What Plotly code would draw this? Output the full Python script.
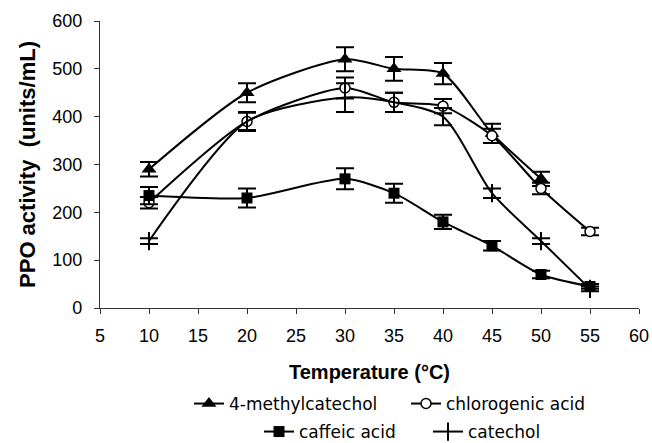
import plotly.graph_objects as go

temps = [10, 20, 30, 35, 40, 45, 50, 55]

methylcatechol = [290, 450, 520, 500, 490, 365, 270]
methylcatechol_err = [15, 20, 25, 25, 22, 20, 15]

chlorogenic = [220, 390, 460, 430, 422, 360, 250, 160]
chlorogenic_err = [12, 18, 22, 20, 15, 15, 12, 8]

caffeic = [235, 230, 270, 240, 180, 130, 70, 45]
caffeic_err = [18, 20, 22, 20, 15, 10, 8, 5]

catechol = [140, 390, 440, 430, 400, 240, 140, 40]
catechol_err = [6, 20, 30, 20, 18, 10, 6, 5]

series = [
    ("4-methylcatechol", temps[:len(methylcatechol)], methylcatechol, methylcatechol_err,
     dict(symbol="triangle-up", size=13, color="black"), "legend"),
    ("chlorogenic acid", temps, chlorogenic, chlorogenic_err,
     dict(symbol="circle", size=10, color="white", line=dict(color="black", width=1.5)), "legend2"),
    ("caffeic acid", temps, caffeic, caffeic_err,
     dict(symbol="square", size=11, color="black"), "legend3"),
    ("catechol", temps, catechol, catechol_err,
     dict(symbol="line-ns-open", size=13, color="black", line=dict(color="black", width=2)), "legend4"),
]

fig = go.Figure()
for name, x, y, err, marker, leg in series:
    fig.add_trace(go.Scatter(
        x=x, y=y, name=name, mode="lines+markers", showlegend=True,
        line=dict(color="black", width=2, shape="spline", smoothing=0.7),
        marker=marker,
        error_y=dict(type="data", array=err, visible=True, color="black", thickness=2, width=9),
        legend=leg,
    ))

font_family = "Liberation Sans, Arial, sans-serif"
W, H = 652, 443


def leg(xpx, ypx):
    return dict(orientation="h", xref="container", yref="container",
                x=xpx / W, xanchor="left", y=1 - ypx / H, yanchor="middle",
                font=dict(size=17, family="DejaVu Sans, sans-serif"),
                bgcolor="rgba(0,0,0,0)", borderwidth=0, visible=True)


fig.update_layout(
    width=W, height=H,
    showlegend=True,
    margin=dict(l=100, r=13, t=21, b=135),
    paper_bgcolor="white", plot_bgcolor="white",
    font=dict(family=font_family, size=18, color="black"),
    xaxis=dict(
        range=[5, 60], tickvals=[5, 10, 15, 20, 25, 30, 35, 40, 45, 50, 55, 60],
        showline=True, linecolor="#333", linewidth=1.2, ticks="outside", ticklen=5,
        tickcolor="#333", showgrid=False, zeroline=False, ticklabelstandoff=6,
        title=dict(text="<b>Temperature (°C)</b>", font=dict(size=20), standoff=20),
        automargin=False,
    ),
    yaxis=dict(
        range=[0, 600], tickvals=[0, 100, 200, 300, 400, 500, 600],
        showline=True, linecolor="#333", linewidth=1.2, ticks="outside", ticklen=5,
        tickcolor="#333", showgrid=False, zeroline=False, ticklabelstandoff=8,
        title=dict(text="<b>PPO activity  (units/mL)</b>", font=dict(size=22), standoff=10),
        automargin=False,
    ),
    legend=leg(189, 404),
    legend2=leg(406, 404),
    legend3=leg(259, 432),
    legend4=leg(428, 432),
)

fig.write_html(
    "out.html",
    config={"displayModeBar": False},
    post_script="document.body.style.margin='0';document.body.style.overflow='hidden';",
)
